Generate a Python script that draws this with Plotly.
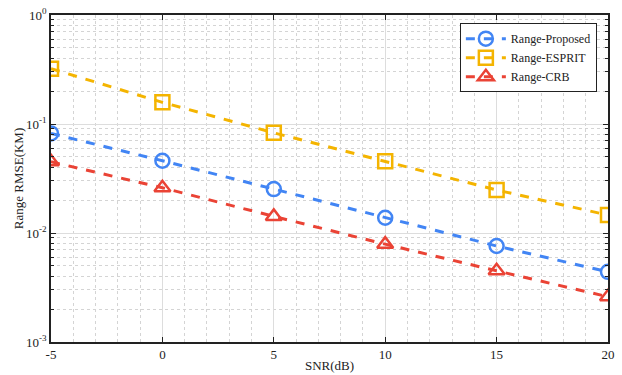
import plotly.graph_objects as go

snr = [-5, 0, 5, 10, 15, 20]
proposed = [0.082, 0.046, 0.0253, 0.0138, 0.0076, 0.0044]
esprit = [0.322, 0.158, 0.083, 0.0455, 0.0248, 0.0146]
crb = [0.045, 0.026, 0.0142, 0.0079, 0.0045, 0.0026]

series = [
    ("Range-Proposed", proposed, "#4285F4", "circle-open"),
    ("Range-ESPRIT", esprit, "#F4B400", "square-open"),
    ("Range-CRB", crb, "#EA4335", "triangle-up-open"),
]

ytickvals = [1e-3, 1e-2, 1e-1, 1]
yticktext = ["10<sup>-3</sup>", "10<sup>-2</sup>", "10<sup>-1</sup>", "10<sup>0</sup>"]
xtickvals = [-5, 0, 5, 10, 15, 20]
xticktext = ["-5", "0", "5", "10", "15", "20"]

fig = go.Figure()
for name, vals, col, sym in series:
    fig.add_trace(go.Scatter(
        x=snr, y=vals, name=name, mode="lines+markers",
        line=dict(color=col, width=3, dash="dash"),
        marker=dict(symbol=sym, size=14, color=col, line=dict(width=2.5, color=col)),
    ))

font = "Times New Roman, Liberation Serif, serif"
tc = "#222"
fig.update_layout(
    width=622, height=375,
    margin=dict(l=51, r=14, t=15, b=33),
    paper_bgcolor="white", plot_bgcolor="white",
    font=dict(family=font, size=13, color=tc),
    legend=dict(x=0.98, y=0.975, xanchor="right", yanchor="top",
                bgcolor="white", bordercolor=tc, borderwidth=1,
                font=dict(family=font, size=12, color=tc),
                itemwidth=40, tracegroupgap=0),
    showlegend=True,
)
fig.update_xaxes(
    range=[-5, 20], tickvals=xtickvals, ticktext=xticktext, ticks="inside", ticklen=5,
    tickcolor=tc, automargin=False,
    showline=True, linecolor=tc, linewidth=1.5, mirror="allticks",
    showgrid=True, gridcolor="#dddddd", gridwidth=1, zeroline=False,
    tickfont=dict(family=font, size=13, color=tc),
    title=dict(text="SNR(dB)", font=dict(family=font, size=13, color=tc), standoff=0),
    minor=dict(dtick=1, showgrid=True, gridcolor="#d4d4d4", griddash="dot", gridwidth=1, ticks=""),
)
fig.update_yaxes(
    type="log", range=[-3, 0], tickvals=ytickvals, ticktext=yticktext,
    ticks="inside", ticklen=5, tickcolor=tc, automargin=False,
    showline=True, linecolor=tc, linewidth=1.5, mirror="allticks",
    showgrid=True, gridcolor="#dddddd", gridwidth=1, zeroline=False,
    tickfont=dict(family=font, size=13, color=tc),
    title=dict(text="Range RMSE(KM)", font=dict(family=font, size=13, color=tc), standoff=0),
    minor=dict(dtick="D1", showgrid=True, gridcolor="#d4d4d4", griddash="dot", gridwidth=1,
               ticks="inside", ticklen=3, tickcolor=tc),
)
fig.write_html("out.html")
